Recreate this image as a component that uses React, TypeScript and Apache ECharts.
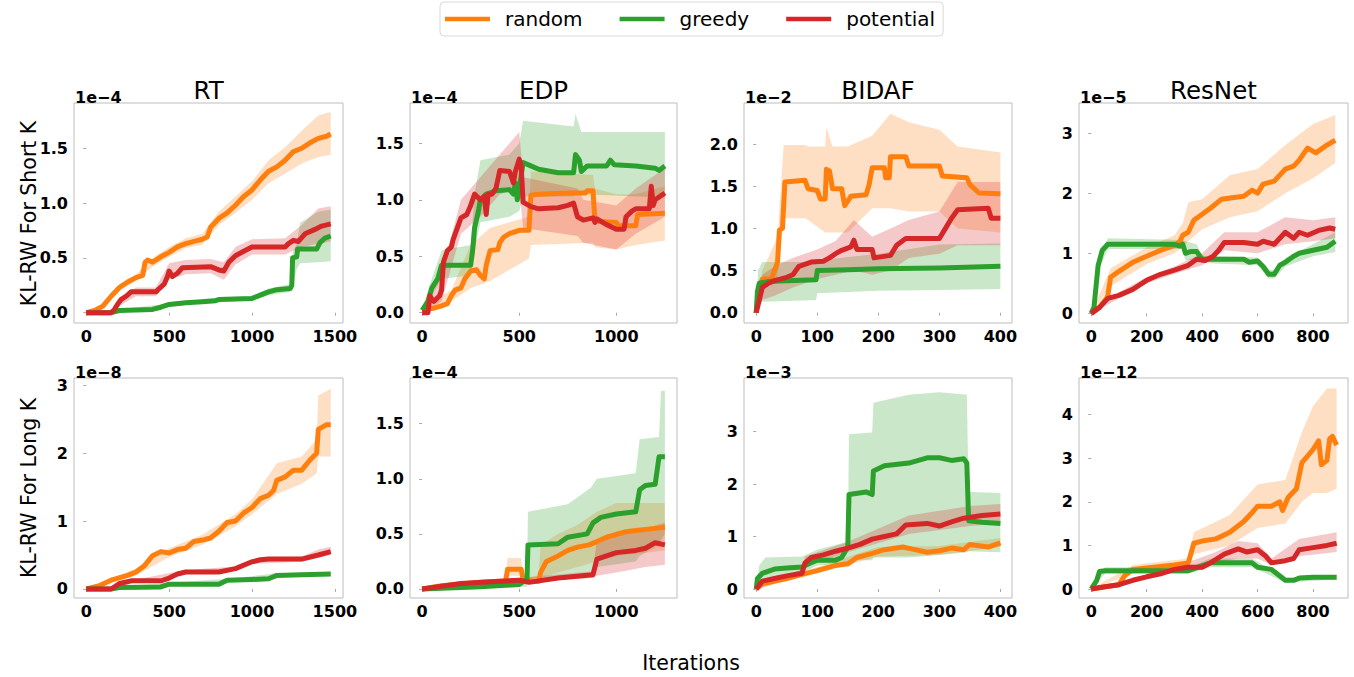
import React, { useEffect, useRef } from "react";
import * as echarts from "echarts";

const methodNames = ["random", "greedy", "potential"];
const lineColors = ["#ff7f0e", "#2ca02c", "#d62728"];
const bandColors = ["rgba(255,127,14,0.25)", "rgba(44,160,44,0.25)", "rgba(214,39,40,0.25)"];

const panelTitles = ["RT", "EDP", "BIDAF", "ResNet"];
const rowLabels = ["KL-RW For Short K", "KL-RW For Long K"];
const offsetTexts = ["1e\u22124", "1e\u22124", "1e\u22122", "1e\u22125", "1e\u22128", "1e\u22124", "1e\u22123", "1e\u221212"];

const xTicksRT = [0, 500, 1000, 1500];
const xTicksEDP = [0, 500, 1000];
const xTicksBIDAF = [0, 100, 200, 300, 400];
const xTicksResNet = [0, 200, 400, 600, 800];

const yTicksRTShort = [0, 0.5, 1, 1.5];
const yTicksEDPShort = [0, 0.5, 1, 1.5];
const yTicksBIDAFShort = [0, 0.5, 1, 1.5, 2];
const yTicksResNetShort = [0, 1, 2, 3];
const yTicksRTLong = [0, 1, 2, 3];
const yTicksEDPLong = [0, 0.5, 1, 1.5];
const yTicksBIDAFLong = [0, 1, 2, 3];
const yTicksResNetLong = [0, 1, 2, 3, 4];

// ---------- RT short (x1e-4) ----------
const rtS_random = [[0,0],[50,0.02],[100,0.06],[150,0.15],[200,0.23],[250,0.28],[300,0.32],[340,0.34],[355,0.46],[370,0.48],[400,0.46],[450,0.51],[500,0.55],[550,0.6],[600,0.63],[650,0.65],[700,0.67],[730,0.69],[750,0.78],[800,0.86],[850,0.91],[900,0.98],[950,1.06],[1000,1.12],[1050,1.21],[1100,1.29],[1150,1.33],[1200,1.39],[1250,1.47],[1300,1.5],[1350,1.55],[1400,1.59],[1450,1.61],[1475,1.63]];
const rtS_randomBand = [[0,0,0],[100,0.04,0.08],[200,0.2,0.26],[300,0.29,0.35],[400,0.42,0.5],[500,0.51,0.6],[600,0.59,0.68],[700,0.62,0.72],[800,0.8,0.92],[900,0.91,1.06],[1000,1.03,1.2],[1100,1.18,1.39],[1200,1.27,1.51],[1300,1.36,1.66],[1400,1.42,1.8],[1475,1.44,1.83]];
const rtS_greedy = [[0,0],[150,0],[200,0.02],[400,0.03],[450,0.05],[500,0.075],[600,0.09],[700,0.1],[780,0.11],[800,0.12],[1000,0.13],[1050,0.16],[1100,0.19],[1150,0.21],[1230,0.22],[1240,0.25],[1245,0.5],[1270,0.51],[1275,0.58],[1390,0.58],[1410,0.64],[1440,0.68],[1475,0.7]];
const rtS_greedyBand = [[0,0,0],[200,0.01,0.03],[800,0.1,0.14],[1000,0.11,0.15],[1100,0.16,0.22],[1230,0.19,0.26],[1245,0.22,0.55],[1270,0.4,0.63],[1290,0.45,0.82],[1400,0.46,0.92],[1475,0.47,0.94]];
const rtS_potential = [[0,0],[150,0],[170,0.03],[190,0.08],[210,0.12],[240,0.15],[270,0.19],[420,0.19],[440,0.22],[470,0.26],[490,0.33],[500,0.38],[520,0.33],[550,0.36],[580,0.41],[750,0.42],[800,0.39],[830,0.38],[860,0.46],[900,0.52],[950,0.56],[1000,0.6],[1200,0.6],[1220,0.63],[1250,0.66],[1280,0.65],[1320,0.72],[1380,0.76],[1420,0.79],[1475,0.81]];
const rtS_potentialBand = [[0,0,0],[150,0,0],[200,0.06,0.14],[300,0.15,0.23],[420,0.15,0.23],[500,0.3,0.45],[600,0.35,0.48],[750,0.36,0.49],[830,0.3,0.46],[900,0.44,0.6],[1000,0.53,0.67],[1200,0.53,0.68],[1300,0.6,0.8],[1400,0.63,0.95],[1475,0.65,0.97]];

// ---------- EDP short (x1e-4) ----------
const edpS_random = [[0,0.03],[60,0.04],[100,0.06],[130,0.08],[150,0.15],[170,0.2],[200,0.22],[220,0.3],[250,0.37],[280,0.38],[300,0.33],[320,0.3],[330,0.42],[350,0.55],[390,0.56],[400,0.62],[420,0.67],[450,0.7],[500,0.73],[550,0.73],[560,1.04],[600,1.05],[750,1.06],[840,1.06],[850,1.08],[880,1.08],[890,0.81],[1000,0.8],[1010,0.77],[1100,0.77],[1110,0.87],[1250,0.88]];
const edpS_randomBand = [[0,0.02,0.05],[150,0.1,0.2],[250,0.22,0.6],[350,0.28,0.75],[450,0.38,0.8],[550,0.48,0.85],[560,0.6,1.25],[880,0.62,1.22],[890,0.58,1.1],[1000,0.56,1.05],[1100,0.6,1.05],[1250,0.64,1.12]];
const edpS_greedy = [[0,0.02],[30,0.1],[50,0.22],[80,0.3],[100,0.42],[250,0.42],[260,0.55],[270,0.75],[290,0.9],[300,1.0],[330,1.05],[380,1.08],[450,1.09],[470,1.05],[480,1.15],[490,1.0],[500,1.1],[520,1.33],[560,1.3],[600,1.27],[700,1.24],[780,1.24],[790,1.4],[810,1.35],[820,1.25],[850,1.3],[950,1.3],[970,1.35],[990,1.31],[1100,1.3],[1200,1.28],[1220,1.26],[1250,1.3]];
const edpS_greedyBand = [[0,0,0.04],[50,0.15,0.3],[100,0.3,0.55],[250,0.33,0.6],[270,0.55,1.05],[300,0.8,1.35],[450,0.85,1.4],[500,0.9,1.5],[520,1.03,1.7],[780,1.03,1.65],[790,1.05,1.76],[820,1.05,1.6],[1250,1.02,1.6]];
const edpS_potential = [[0,0],[30,0],[40,0.15],[50,0.12],[60,0.1],[90,0.15],[100,0.2],[110,0.45],[130,0.55],[150,0.58],[160,0.65],[200,0.84],[230,0.87],[250,0.95],[270,1.05],[300,1.0],[320,1.03],[330,0.87],[340,1.05],[360,1.05],[380,1.1],[400,1.26],[450,1.25],[470,1.15],[480,1.25],[500,1.36],[510,1.3],[520,0.98],[560,0.94],[600,0.92],[700,0.93],[750,0.95],[780,0.97],[800,0.85],[830,0.82],[880,0.84],[890,0.8],[900,0.83],[950,0.78],[1000,0.74],[1040,0.74],[1050,0.85],[1080,0.9],[1100,0.92],[1170,0.92],[1180,1.12],[1190,0.95],[1200,1.0],[1250,1.06]];
const edpS_potentialBand = [[0,0,0.02],[100,0.1,0.35],[200,0.7,1.0],[300,0.85,1.2],[400,1.05,1.4],[500,1.1,1.6],[520,0.75,1.2],[800,0.68,1.1],[830,0.62,1.0],[1000,0.56,0.95],[1100,0.7,1.1],[1250,0.85,1.28]];

// ---------- BIDAF short (x1e-2) ----------
const bidafS_random = [[0,0],[5,0.3],[10,0.4],[25,0.4],[30,0.5],[35,0.6],[38,0.98],[43,1.0],[47,1.55],[80,1.57],[85,1.47],[100,1.45],[105,1.35],[113,1.35],[115,1.7],[120,1.68],[125,1.47],[140,1.47],[145,1.27],[155,1.38],[180,1.4],[185,1.52],[190,1.72],[210,1.72],[212,1.6],[218,1.6],[220,1.85],[245,1.85],[250,1.74],[300,1.74],[305,1.62],[345,1.6],[350,1.52],[365,1.42],[400,1.41]];
const bidafS_randomBand = [[0,0,0],[10,0.3,0.5],[35,0.4,0.9],[45,1.12,1.99],[80,1.12,1.99],[85,1.1,1.97],[113,0.95,1.97],[115,0.95,2.2],[125,0.95,1.97],[150,0.95,1.97],[190,1.24,2.1],[220,1.24,2.36],[250,1.2,2.26],[300,1.2,2.17],[330,1.0,1.97],[400,0.95,1.9]];
const bidafS_greedy = [[0,0],[2,0.25],[5,0.35],[20,0.37],[50,0.38],[98,0.39],[100,0.5],[150,0.51],[200,0.52],[300,0.53],[400,0.55]];
const bidafS_greedyBand = [[0,0,0],[3,0.1,0.5],[10,0.13,0.6],[50,0.14,0.6],[98,0.15,0.6],[100,0.23,0.62],[200,0.26,0.7],[300,0.27,0.81],[400,0.28,0.82]];
const bidafS_potential = [[0,0],[5,0.15],[10,0.3],[20,0.35],[30,0.38],[50,0.42],[60,0.45],[70,0.55],[90,0.6],[110,0.61],[120,0.65],[130,0.7],[140,0.74],[155,0.78],[160,0.86],[165,0.75],[190,0.75],[193,0.65],[220,0.68],[230,0.8],[245,0.88],[300,0.88],[310,1.0],[320,1.12],[330,1.22],[380,1.24],[385,1.12],[400,1.12]];
const bidafS_potentialBand = [[0,0,0],[10,0.15,0.45],[30,0.2,0.55],[60,0.3,0.65],[100,0.4,0.75],[130,0.45,0.85],[160,0.5,1.1],[190,0.45,0.9],[220,0.5,1.0],[250,0.65,1.1],[300,0.7,1.2],[330,0.8,1.55],[400,0.8,1.55]];

// ---------- ResNet short (x1e-5) ----------
const resS_random = [[0,0],[30,0.1],[55,0.25],[60,0.3],[70,0.6],[100,0.7],[150,0.85],[200,0.95],[250,1.05],[300,1.13],[320,1.2],[330,1.3],[350,1.35],[370,1.55],[400,1.65],[430,1.75],[470,1.9],[500,1.92],[550,1.95],[580,2.05],[600,2.0],[620,2.15],[660,2.2],[700,2.4],[730,2.45],[750,2.55],[780,2.75],[810,2.67],[850,2.8],[880,2.88]];
const resS_randomBand = [[0,0,0],[70,0.45,0.75],[200,0.82,1.1],[300,1.0,1.3],[330,1.1,1.5],[350,1.2,1.85],[400,1.4,1.9],[500,1.6,2.3],[600,1.7,2.4],[700,2.0,2.8],[800,2.25,3.15],[880,2.5,3.3]];
const resS_greedy = [[0,0],[10,0.1],[25,0.8],[40,1.05],[60,1.15],[300,1.15],[320,1.12],[330,1.15],[340,1.0],[360,1.03],[380,1.03],[400,0.9],[550,0.9],[570,0.85],[600,0.87],[620,0.78],[640,0.65],[660,0.65],[680,0.8],[700,0.85],[730,0.95],[750,1.0],[800,1.05],[850,1.1],[880,1.2]];
const resS_greedyBand = [[0,0,0],[25,0.7,0.9],[60,1.07,1.25],[330,1.07,1.22],[340,0.88,1.2],[380,0.9,1.15],[400,0.84,0.96],[600,0.8,0.93],[640,0.58,0.72],[660,0.58,0.72],[700,0.78,0.92],[800,0.95,1.15],[880,1.02,1.35]];
const resS_potential = [[0,0],[30,0.1],[60,0.25],[100,0.3],[150,0.4],[200,0.55],[250,0.65],[300,0.72],[350,0.8],[380,0.9],[410,0.88],[440,0.95],[460,1.05],[480,1.18],[550,1.18],[600,1.15],[620,1.2],[660,1.15],[700,1.35],[730,1.25],[750,1.35],[780,1.3],[820,1.38],[860,1.42],[880,1.4]];
const resS_potentialBand = [[0,0,0],[100,0.25,0.35],[200,0.5,0.6],[300,0.66,0.78],[400,0.8,1.0],[480,1.05,1.35],[600,1.0,1.35],[700,1.15,1.6],[800,1.2,1.55],[880,1.25,1.6]];

// ---------- RT long (x1e-8) ----------
const rtL_random = [[0,0],[80,0.05],[150,0.13],[250,0.2],[300,0.25],[350,0.34],[400,0.49],[450,0.55],[500,0.53],[550,0.58],[600,0.6],[650,0.7],[700,0.72],[750,0.75],[800,0.85],[850,0.98],[900,1.0],[950,1.12],[1000,1.2],[1050,1.33],[1100,1.38],[1130,1.45],[1150,1.6],[1200,1.65],[1250,1.75],[1300,1.75],[1350,1.9],[1390,2.0],[1400,2.35],[1450,2.42],[1475,2.42]];
const rtL_randomBand = [[0,0,0],[300,0.2,0.3],[500,0.47,0.6],[700,0.65,0.8],[900,0.92,1.1],[1000,1.1,1.32],[1150,1.4,1.85],[1300,1.55,1.95],[1390,1.7,2.2],[1400,1.95,2.85],[1475,1.95,2.95]];
const rtL_greedy = [[0,0],[150,0],[200,0.02],[450,0.03],[500,0.07],[800,0.07],[850,0.13],[1000,0.14],[1100,0.15],[1150,0.2],[1300,0.21],[1475,0.22]];
const rtL_greedyBand = [[0,0,0],[500,0.05,0.09],[850,0.11,0.15],[1150,0.18,0.23],[1475,0.19,0.25]];
const rtL_potential = [[0,0],[150,0],[200,0.08],[270,0.12],[450,0.12],[500,0.16],[550,0.22],[600,0.25],[800,0.25],[900,0.3],[1000,0.4],[1050,0.43],[1100,0.44],[1300,0.44],[1400,0.5],[1475,0.55]];
const rtL_potentialBand = [[0,0,0],[150,0,0],[300,0.1,0.14],[600,0.23,0.28],[900,0.28,0.33],[1000,0.37,0.44],[1300,0.4,0.48],[1400,0.46,0.58],[1475,0.5,0.62]];

// ---------- EDP long (x1e-4) ----------
const edpL_random = [[0,0],[100,0.03],[300,0.06],[400,0.07],[430,0.07],[440,0.18],[510,0.18],[520,0.08],[600,0.07],[610,0.15],[640,0.25],[700,0.3],[750,0.35],[800,0.38],[860,0.4],[900,0.43],[950,0.47],[1050,0.52],[1100,0.53],[1200,0.55],[1250,0.56]];
const edpL_randomBand = [[0,0,0],[430,0.05,0.09],[440,0.12,0.28],[510,0.12,0.28],[520,0.06,0.1],[600,0.06,0.12],[610,0.1,0.4],[700,0.15,0.5],[800,0.2,0.58],[900,0.25,0.7],[1000,0.3,0.78],[1250,0.35,0.78]];
const edpL_greedy = [[0,0],[300,0.02],[500,0.04],[530,0.08],[540,0.08],[545,0.4],[700,0.41],[750,0.47],[850,0.5],[880,0.6],[920,0.65],[1000,0.68],[1100,0.7],[1120,0.9],[1150,0.94],[1200,0.95],[1220,1.2],[1250,1.2]];
const edpL_greedyBand = [[0,0,0],[500,0.02,0.06],[540,0.02,0.06],[545,0.1,0.7],[750,0.1,0.77],[870,0.15,0.92],[900,0.2,1.0],[1100,0.25,1.05],[1120,0.3,1.36],[1220,0.4,1.38],[1230,0.45,1.8],[1250,0.5,1.8]];
const edpL_potential = [[0,0],[200,0.05],[400,0.07],[500,0.08],[550,0.06],[700,0.1],[880,0.13],[900,0.27],[950,0.3],[1000,0.33],[1100,0.35],[1150,0.37],[1200,0.42],[1250,0.4]];
const edpL_potentialBand = [[0,0,0],[500,0.06,0.1],[880,0.1,0.16],[900,0.12,0.45],[1000,0.15,0.52],[1150,0.2,0.55],[1250,0.22,0.6]];

// ---------- BIDAF long (x1e-3) ----------
const bidafL_random = [[0,0],[10,0.1],[30,0.15],[50,0.2],[75,0.28],[100,0.35],[130,0.45],[150,0.48],[165,0.6],[190,0.68],[210,0.75],[240,0.8],[260,0.75],[280,0.7],[300,0.73],[320,0.78],[340,0.75],[350,0.85],[380,0.8],[400,0.88]];
const bidafL_randomBand = [[0,0,0],[100,0.3,0.42],[200,0.62,0.8],[300,0.65,0.82],[400,0.8,0.97]];
const bidafL_greedy = [[0,0],[2,0.2],[10,0.3],[30,0.38],[50,0.4],[75,0.42],[90,0.5],[100,0.55],[130,0.55],[140,0.6],[150,0.8],[152,1.8],[180,1.85],[190,1.8],[192,2.25],[210,2.35],[250,2.4],[280,2.5],[300,2.5],[320,2.45],[340,2.48],[345,2.4],[348,1.3],[370,1.27],[400,1.25]];
const bidafL_greedyBand = [[0,0,0],[5,0.1,0.45],[15,0.15,0.6],[75,0.3,0.62],[100,0.45,0.75],[150,0.5,0.9],[152,0.55,2.95],[190,0.55,2.98],[192,0.6,3.55],[250,0.6,3.7],[300,0.65,3.75],[345,0.7,3.7],[348,0.72,1.85],[400,0.7,1.83]];
const bidafL_potential = [[0,0],[10,0.15],[30,0.2],[50,0.25],[75,0.3],[80,0.5],[90,0.6],[110,0.65],[130,0.72],[150,0.78],[170,0.85],[190,0.95],[210,1.0],[230,1.05],[245,1.22],[280,1.25],[300,1.2],[320,1.28],[340,1.35],[370,1.4],[400,1.43]];
const bidafL_potentialBand = [[0,0,0],[75,0.25,0.38],[80,0.42,0.62],[150,0.7,0.9],[250,1.05,1.4],[350,1.2,1.58],[400,1.25,1.62]];

// ---------- ResNet long (x1e-12) ----------
const resL_random = [[0,0],[50,0.05],[100,0.1],[120,0.3],[150,0.45],[200,0.48],[300,0.55],[350,0.6],[370,1.05],[400,1.1],[450,1.15],[500,1.3],[550,1.55],[580,1.75],[600,1.9],[650,1.9],[680,2.0],[690,1.8],[710,2.1],[740,2.3],[760,2.9],[800,3.2],[820,3.4],[830,2.85],[850,2.95],[860,3.45],[870,3.5],[885,3.3]];
const resL_randomBand = [[0,0,0],[150,0.35,0.55],[350,0.5,0.7],[370,0.8,1.3],[500,1.0,1.7],[600,1.4,2.4],[700,1.5,2.5],[760,2.0,3.6],[800,2.2,4.2],[850,2.2,4.6],[885,2.3,4.6]];
const resL_greedy = [[0,0],[20,0.2],[30,0.4],[50,0.42],[350,0.42],[430,0.6],[580,0.6],[600,0.5],[650,0.45],[670,0.35],[700,0.2],[730,0.2],[750,0.25],[800,0.27],[885,0.27]];
const resL_greedyBand = [[0,0,0],[50,0.35,0.5],[350,0.35,0.5],[430,0.5,0.7],[580,0.5,0.7],[700,0.15,0.25],[885,0.22,0.32]];
const resL_potential = [[0,0],[50,0.05],[100,0.1],[150,0.2],[200,0.28],[250,0.35],[300,0.45],[350,0.5],[400,0.5],[430,0.6],[480,0.8],[530,0.92],[560,0.85],[600,0.9],[630,0.75],[650,0.6],[700,0.65],[730,0.7],[750,0.9],[800,0.95],[850,1.0],[885,1.05]];
const resL_potentialBand = [[0,0,0],[300,0.4,0.5],[450,0.6,0.85],[530,0.7,1.1],[600,0.7,1.05],[650,0.55,0.7],[750,0.75,1.15],[885,0.85,1.3]];

const FONT = "'DejaVu Sans', sans-serif";

const colLeft = [74, 410, 744, 1079];
const colRight = [343, 677, 1012, 1348];
const rowTop = [103, 378];
const rowBottom = [323, 598];

const panels = [
  { x: [-74, 1549], y: [-0.094, 1.913], xt: xTicksRT, yt: yTicksRTShort, dec: 1, lines: [rtS_random, rtS_greedy, rtS_potential], bands: [rtS_randomBand, rtS_greedyBand, rtS_potentialBand] },
  { x: [-62.5, 1312.5], y: [-0.091, 1.857], xt: xTicksEDP, yt: yTicksEDPShort, dec: 1, lines: [edpS_random, edpS_greedy, edpS_potential], bands: [edpS_randomBand, edpS_greedyBand, edpS_potentialBand] },
  { x: [-20, 419], y: [-0.122, 2.487], xt: xTicksBIDAF, yt: yTicksBIDAFShort, dec: 1, lines: [bidafS_random, bidafS_greedy, bidafS_potential], bands: [bidafS_randomBand, bidafS_greedyBand, bidafS_potentialBand] },
  { x: [-44, 926], y: [-0.16, 3.5], xt: xTicksResNet, yt: yTicksResNetShort, dec: 0, lines: [resS_random, resS_greedy, resS_potential], bands: [resS_randomBand, resS_greedyBand, resS_potentialBand] },
  { x: [-74, 1549], y: [-0.133, 3.107], xt: xTicksRT, yt: yTicksRTLong, dec: 0, lines: [rtL_random, rtL_greedy, rtL_potential], bands: [rtL_randomBand, rtL_greedyBand, rtL_potentialBand] },
  { x: [-62.5, 1312.5], y: [-0.082, 1.915], xt: xTicksEDP, yt: yTicksEDPLong, dec: 1, lines: [edpL_random, edpL_greedy, edpL_potential], bands: [edpL_randomBand, edpL_greedyBand, edpL_potentialBand] },
  { x: [-20, 419], y: [-0.171, 4.02], xt: xTicksBIDAF, yt: yTicksBIDAFLong, dec: 0, lines: [bidafL_random, bidafL_greedy, bidafL_potential], bands: [bidafL_randomBand, bidafL_greedyBand, bidafL_potentialBand] },
  { x: [-44, 926], y: [-0.206, 4.84], xt: xTicksResNet, yt: yTicksResNetLong, dec: 0, lines: [resL_random, resL_greedy, resL_potential], bands: [resL_randomBand, resL_greedyBand, resL_potentialBand] },
];

function buildOption() {
  const grid: any[] = [];
  const xAxis: any[] = [];
  const yAxis: any[] = [];
  const series: any[] = [];
  const graphic: any[] = [];

  panels.forEach((p, i) => {
    const r = Math.floor(i / 4);
    const c = i % 4;
    const left = colLeft[c];
    const top = rowTop[r];
    const width = colRight[c] - colLeft[c];
    const height = rowBottom[r] - rowTop[r];
    grid.push({ left, top, width, height, show: true, borderColor: "#bdbdbd", borderWidth: 1, backgroundColor: "transparent", containLabel: false });
    xAxis.push({
      type: "value", gridIndex: i, min: p.x[0], max: p.x[1],
      splitLine: { show: false }, axisLine: { show: false },
      axisTick: { show: true, length: 3, lineStyle: { color: "#aaa" }, customValues: p.xt },
      axisLabel: { customValues: p.xt, fontFamily: FONT, fontWeight: "bold", fontSize: 16, color: "#000", margin: 5, formatter: (v: number) => String(Math.round(v)) },
    });
    yAxis.push({
      type: "value", gridIndex: i, min: p.y[0], max: p.y[1],
      splitLine: { show: false }, axisLine: { show: false },
      axisTick: { show: true, length: 3, lineStyle: { color: "#aaa" }, customValues: p.yt },
      axisLabel: { customValues: p.yt, fontFamily: FONT, fontWeight: "bold", fontSize: 16, color: "#000", margin: 6, formatter: (v: number) => v.toFixed(p.dec) },
    });
    for (let k = 0; k < 3; k++) {
      const band = p.bands[k];
      series.push({
        type: "custom", name: methodNames[k] + " band", xAxisIndex: i, yAxisIndex: i,
        silent: true, clip: true, data: [[0, 0]],
        renderItem: (params: any, api: any) => {
          const pts: number[][] = [];
          for (const b of band) pts.push(api.coord([b[0], b[2]]));
          for (let j = band.length - 1; j >= 0; j--) pts.push(api.coord([band[j][0], band[j][1]]));
          return { type: "polygon", shape: { points: pts }, style: { fill: bandColors[k], stroke: null } };
        },
      });
      series.push({
        type: "line", name: methodNames[k], xAxisIndex: i, yAxisIndex: i,
        data: p.lines[k], showSymbol: false, symbol: "none", color: lineColors[k],
        itemStyle: { color: lineColors[k] },
        lineStyle: { width: 5, color: lineColors[k], cap: "butt", join: "round" },
        silent: true,
      });
    }
    graphic.push({ type: "text", x: left + 1, y: top - 5.5, style: { text: offsetTexts[i], font: `bold 16px ${FONT}`, fill: "#000", align: "left", verticalAlign: "middle" } });
    if (r === 0) {
      graphic.push({ type: "text", x: left + width / 2, y: 90.5, style: { text: panelTitles[c], font: `24.5px ${FONT}`, fill: "#000", align: "center", verticalAlign: "middle" } });
    }
  });

  graphic.push({ type: "text", x: 29, y: 213.5, rotation: Math.PI / 2, style: { text: rowLabels[0], font: `20.5px ${FONT}`, fill: "#000", align: "center", verticalAlign: "middle" } });
  graphic.push({ type: "text", x: 29, y: 488, rotation: Math.PI / 2, style: { text: rowLabels[1], font: `20.5px ${FONT}`, fill: "#000", align: "center", verticalAlign: "middle" } });
  graphic.push({ type: "text", x: 691, y: 663, style: { text: "Iterations", font: `20.5px ${FONT}`, fill: "#000", align: "center", verticalAlign: "middle" } });

  return {
    animation: false,
    backgroundColor: "#fff",
    legend: {
      data: methodNames, left: 440, top: 2, orient: "horizontal",
      icon: "rect", itemWidth: 45, itemHeight: 4.5, itemGap: 37,
      padding: [7, 8, 7, 5], borderColor: "#d9d9d9", borderWidth: 1, borderRadius: 4,
      textStyle: { fontFamily: FONT, fontSize: 20, color: "#000", padding: [0, 0, 0, 10] },
      selectedMode: false,
    },
    grid, xAxis, yAxis, series, graphic,
  };
}

export default function App() {
  const ref = useRef<HTMLDivElement>(null);
  useEffect(() => {
    document.body.style.margin = "0";
    document.body.style.overflow = "hidden";
    if (!ref.current) return;
    const chart = echarts.init(ref.current, null, { renderer: "svg" });
    chart.setOption(buildOption() as any);
    return () => chart.dispose();
  }, []);
  return <div ref={ref} style={{ position: "fixed", left: 0, top: 0, width: 1354, height: 677 }} />;
}
